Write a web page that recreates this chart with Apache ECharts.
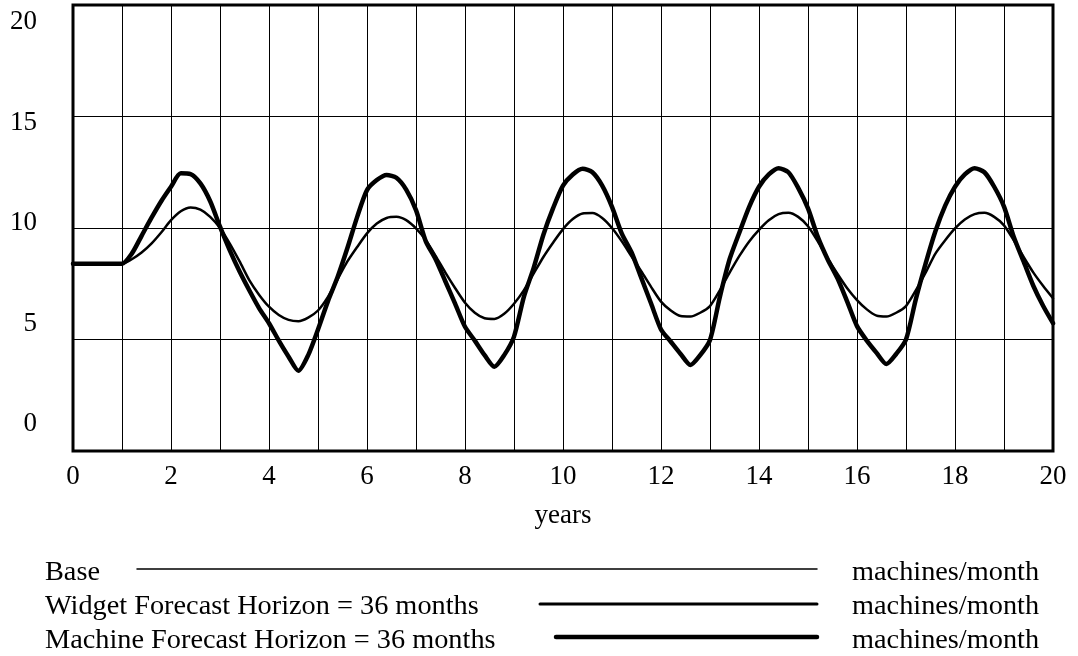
<!DOCTYPE html>
<html>
<head>
<meta charset="utf-8">
<script src="https://cdn.jsdelivr.net/npm/echarts@6/dist/echarts.min.js"></script>
<style>
  html, body { margin: 0; padding: 0; background: #fff; }
  #chart { width: 1078px; height: 656px; }
</style>
</head>
<body>
<div id="chart"></div>
<script>
const years = [];
for (let i = 0; i <= 100; i++) years.push(Math.round(i * 2) / 10);

const xTickLabels = [0, 2, 4, 6, 8, 10, 12, 14, 16, 18, 20];
const yTickLabels = [0, 5, 10, 15, 20];

const seriesNames = ['Base', 'Widget Forecast Horizon = 36 months', 'Machine Forecast Horizon = 36 months'];
const unitLabel = 'machines/month';

// Widget Forecast Horizon = 36 months (medium line)
const widget = [
  8.4, 8.4, 8.4, 8.4, 8.4, 8.4, 8.6, 8.9, 9.3, 9.8,
  10.35, 10.75, 10.92, 10.82, 10.5, 10.0, 9.3, 8.5, 7.65, 7.0,
  6.47, 6.1, 5.88, 5.82, 5.98, 6.3, 6.9, 7.7, 8.5, 9.15,
  9.76, 10.2, 10.45, 10.5, 10.35, 9.98, 9.45, 8.75, 8.0, 7.3,
  6.65, 6.2, 5.95, 5.92, 6.15, 6.6, 7.2, 7.95, 8.7, 9.35,
  9.95, 10.4, 10.65, 10.67, 10.45, 10.0, 9.4, 8.72, 8.05, 7.35,
  6.7, 6.3, 6.05, 6.03, 6.2, 6.5, 7.2, 8.0, 8.75, 9.4,
  9.92, 10.35, 10.62, 10.68, 10.5, 10.08, 9.4, 8.65, 7.95, 7.3,
  6.77, 6.35, 6.07, 6.03, 6.2, 6.5, 7.2, 8.0, 8.85, 9.45,
  9.98, 10.38, 10.62, 10.68, 10.5, 10.12, 9.45, 8.7, 8.0, 7.4,
  6.85
];

// Base run: drawn underneath and coincides with the Widget curve in the picture
const base = widget.slice();

// Machine Forecast Horizon = 36 months (thick line)
const machine = [
  8.4, 8.4, 8.4, 8.4, 8.4, 8.4, 8.85, 9.65, 10.45, 11.2,
  11.85, 12.45, 12.42, 12.0, 11.2, 10.06, 9.0, 8.05, 7.2, 6.4,
  5.73, 4.95, 4.23, 3.6, 4.3, 5.45, 6.7, 7.8, 9.1, 10.5,
  11.7, 12.15, 12.38, 12.25, 11.72, 10.8, 9.4, 8.6, 7.6, 6.6,
  5.57, 4.95, 4.3, 3.78, 4.3, 5.13, 6.9, 8.2, 9.7, 10.9,
  11.9, 12.4, 12.66, 12.5, 11.9, 10.95, 9.75, 8.9, 7.75, 6.6,
  5.45, 4.9, 4.35, 3.86, 4.3, 4.98, 6.9, 8.6, 9.8, 10.95,
  11.85, 12.4, 12.68, 12.5, 11.8, 10.88, 9.6, 8.6, 7.75, 6.7,
  5.6, 4.95, 4.4, 3.9, 4.35, 5.0, 6.8, 8.4, 9.85, 11.0,
  11.85, 12.4, 12.68, 12.5, 11.85, 10.96, 9.6, 8.5, 7.4, 6.5,
  5.73
];

// ---- chart ----
const FONT = 'Liberation Serif, Times New Roman, serif';
const pairs = arr => years.map((t, i) => [t, arr[i]]);

const chart = echarts.init(document.getElementById('chart'), null, { renderer: 'canvas' });

const legendRows = [
  { textY: 572.5, lineY: 569, x1: 137, width: 1.5 },
  { textY: 607, lineY: 604, x1: 540, width: 3 },
  { textY: 641, lineY: 637, x1: 556, width: 4.5 }
];
const graphics = [];
legendRows.forEach((r, i) => {
  graphics.push({
    type: 'text', x: 45, y: r.textY, silent: true,
    style: { text: seriesNames[i], fill: '#000', font: '28.3px ' + FONT, align: 'left', verticalAlign: 'middle' }
  });
  graphics.push({
    type: 'line', silent: true,
    shape: { x1: r.x1, y1: r.lineY, x2: 817, y2: r.lineY },
    style: { stroke: '#000', lineWidth: r.width, lineCap: 'round' }
  });
  graphics.push({
    type: 'text', x: 852, y: r.textY, silent: true,
    style: { text: unitLabel, fill: '#000', font: '28.3px ' + FONT, align: 'left', verticalAlign: 'middle' }
  });
});

const option = {
  animation: false,
  backgroundColor: '#fff',
  grid: { left: 73, right: 25, top: 5, bottom: 205, show: true, borderColor: '#000', borderWidth: 3, backgroundColor: 'transparent' },
  xAxis: {
    type: 'value', min: 0, max: 20, interval: 1,
    axisLine: { show: false }, axisTick: { show: false },
    splitLine: { show: true, lineStyle: { color: '#000', width: 1 } },
    axisLabel: {
      showMinLabel: true, showMaxLabel: true,
      formatter: v => (xTickLabels.indexOf(v) >= 0 ? String(v) : ''),
      fontFamily: FONT, fontSize: 27, color: '#000', margin: 12
    },
    name: 'years', nameLocation: 'middle', nameGap: 51,
    nameTextStyle: { fontFamily: FONT, fontSize: 27, color: '#000' }
  },
  yAxis: [
    {
      type: 'value', min: 0, max: 20, interval: 5,
      axisLine: { show: false }, axisTick: { show: false }, axisLabel: { show: false },
      splitLine: { show: true, lineStyle: { color: '#000', width: 1 } }
    },
    {
      type: 'value', min: -1.343, max: 20.846, position: 'left', offset: 0,
      axisLine: { show: false }, axisTick: { show: false }, splitLine: { show: false },
      axisLabel: { customValues: yTickLabels, margin: 36, fontFamily: FONT, fontSize: 27, color: '#000' }
    }
  ],
  series: [
    { name: seriesNames[0], type: 'line', yAxisIndex: 0, data: pairs(base), showSymbol: false, smooth: 0.25,
      lineStyle: { color: '#000', width: 1 } },
    { name: seriesNames[1], type: 'line', yAxisIndex: 0, data: pairs(widget), showSymbol: false, smooth: 0.25,
      lineStyle: { color: '#000', width: 2.5, join: 'round', cap: 'round' } },
    { name: seriesNames[2], type: 'line', yAxisIndex: 0, data: pairs(machine), showSymbol: false, smooth: 0.25,
      lineStyle: { color: '#000', width: 4.5, join: 'round', cap: 'round' } }
  ],
  graphic: graphics
};
chart.setOption(option);
</script>
</body>
</html>
